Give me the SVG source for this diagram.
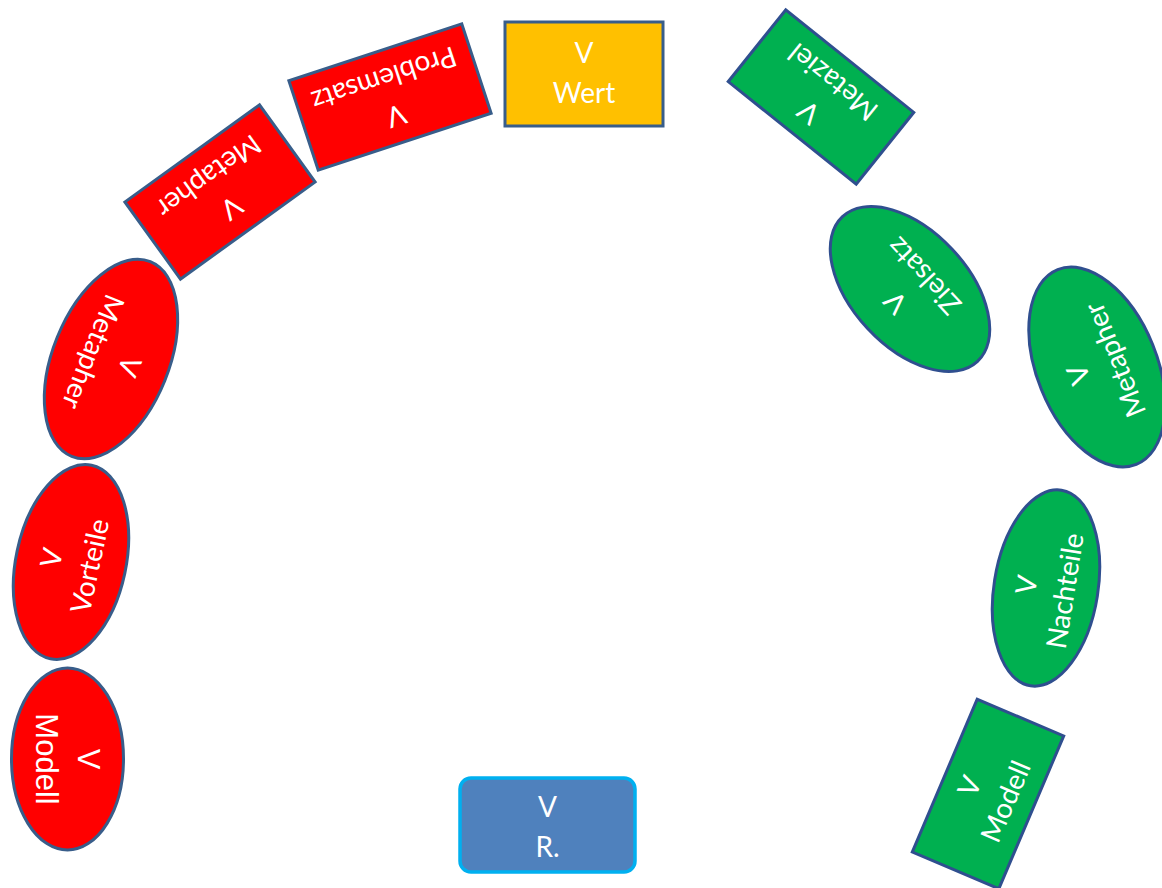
<svg xmlns="http://www.w3.org/2000/svg" width="1162" height="888" viewBox="0 0 1162 888">
<style>
.red{fill:#FF0000;stroke:#385D8A;stroke-width:3}
.green{fill:#00B050;stroke:#2F4F8F;stroke-width:3}
.yellow{fill:#FFC000;stroke:#385D8A;stroke-width:3}
.blue{fill:#4F81BD;stroke:#00B0F0;stroke-width:3.5}
.t{font-family:Lato,"Open Sans",sans-serif;font-size:28px;fill:#FFFFFF;text-anchor:middle}
.ta{font-family:"Liberation Sans",Arial,sans-serif;font-size:31px;fill:#FFFFFF;text-anchor:middle}
</style>
<rect width="1162" height="888" fill="#FFFFFF"/>
<g id="connectors"/>
<g id="wert">
<rect class="yellow" x="505" y="22" width="158" height="104"/>
<text class="t" x="584" y="63" font-size="30">V</text>
<text class="t" x="584" y="103" font-size="30">Wert</text>
</g>
<g id="problemsatz" transform="translate(390,97) rotate(161.8)">
<rect class="red" x="-91" y="-47" width="182" height="94"/>
<text class="t" x="0" y="-10">V</text>
<text class="t" x="0" y="29">Problemsatz</text>
</g>
<g id="metapher-rect" transform="translate(220,192) rotate(144.2)">
<rect class="red" x="-83" y="-47.5" width="166" height="95"/>
<text class="t" x="0" y="-10">V</text>
<text class="t" x="0" y="29">Metapher</text>
</g>
<g id="metapher-ellipse-red" transform="translate(111,359) rotate(112)">
<ellipse class="red" cx="0" cy="0" rx="105" ry="58"/>
<text class="t" x="0" y="-10">V</text>
<text class="t" x="0" y="29">Metapher</text>
</g>
<g id="vorteile" transform="translate(71,562) rotate(-78)">
<ellipse class="red" cx="0" cy="0" rx="99" ry="55"/>
<text class="t" x="0" y="-10">V</text>
<text class="t" x="0" y="29">Vorteile</text>
</g>
<g id="modell-red" transform="translate(67.5,759) rotate(90)">
<ellipse class="red" cx="0" cy="0" rx="91" ry="56"/>
<text class="ta" x="0" y="-10">V</text>
<text class="ta" x="0" y="32">Modell</text>
</g>
<g id="metaziel" transform="translate(821,97) rotate(218.7)">
<rect class="green" x="-82" y="-46" width="164" height="92"/>
<text class="t" x="0" y="-10">V</text>
<text class="t" x="0" y="29">Metaziel</text>
</g>
<g id="zielsatz" transform="translate(910,289) rotate(227)">
<ellipse class="green" cx="0" cy="0" rx="99" ry="58"/>
<text class="t" x="0" y="-10">V</text>
<text class="t" x="0" y="29">Zielsatz</text>
</g>
<g id="metapher-ellipse-green" transform="translate(1097,367) rotate(-112)">
<ellipse class="green" cx="0" cy="0" rx="105" ry="60"/>
<text class="t" x="0" y="-10">V</text>
<text class="t" x="0" y="29">Metapher</text>
</g>
<g id="nachteile" transform="translate(1046,588) rotate(-81)">
<ellipse class="green" cx="0" cy="0" rx="99" ry="52"/>
<text class="t" x="0" y="-10">V</text>
<text class="t" x="0" y="29">Nachteile</text>
</g>
<g id="modell-green" transform="translate(988,794) rotate(-67)">
<rect class="green" x="-83" y="-47" width="166" height="94"/>
<text class="t" x="0" y="-10">V</text>
<text class="t" x="0" y="29">Modell</text>
</g>
<g id="r">
<rect class="blue" x="460" y="778" width="175" height="94" rx="11"/>
<text class="t" x="547.5" y="817" font-size="29">V</text>
<text class="t" x="547.5" y="857" font-size="29">R.</text>
</g>
</svg>
